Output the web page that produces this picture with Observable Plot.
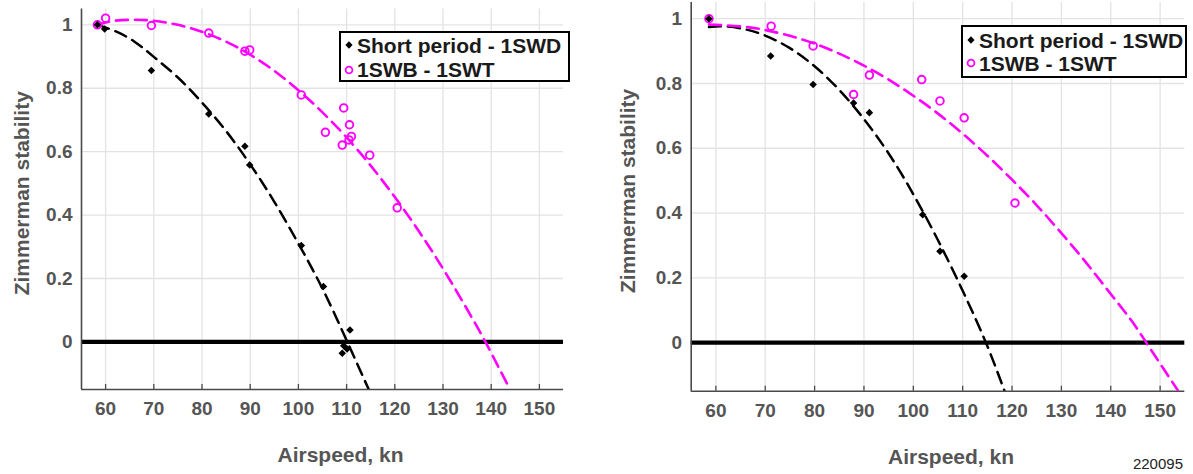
<!DOCTYPE html>
<html><head><meta charset="utf-8">
<script src="https://cdn.jsdelivr.net/npm/d3@7"></script>
<script src="https://cdn.jsdelivr.net/npm/@observablehq/plot@0.6"></script>
<style>
body{margin:0;background:#fff;}
#fig{position:relative;width:1193px;height:474px;overflow:hidden;font-family:"Liberation Sans",Arial,Helvetica,sans-serif;}
.panel{position:absolute;top:0;}
.legend{position:absolute;background:#fff;border:2px solid #000;box-sizing:border-box;font-weight:bold;font-size:21px;color:#1a1a1a;}
.legend .row{display:flex;align-items:center;white-space:nowrap;line-height:1;}
.legend svg{display:block;}
.note{position:absolute;font-size:15px;color:#222;}
</style></head>
<body>
<div id="fig"></div>
<script>
// ---------- shared axes ----------
const xDomain = [55, 155];
const yDomain = [-0.15, 1.05];
const xTicks = [60, 70, 80, 90, 100, 110, 120, 130, 140, 150];
const yTicks = [0, 0.2, 0.4, 0.6, 0.8, 1];
const xTitle = "Airspeed, kn";
const yTitle = "Zimmerman stability";
const seriesNames = ["Short period - 1SWD", "1SWB - 1SWT"];
const figureId = "220095";

// ---------- left panel data ----------
const leftSPSpeed = [58.3, 59.8, 69.5, 81.4, 88.9, 89.9, 100.6, 105.2, 109.1, 109.4, 110.1, 110.7];
const leftSPStab  = [1.0, 0.987, 0.856, 0.719, 0.617, 0.558, 0.304, 0.175, -0.036, -0.012, -0.022, 0.038];
const leftWBSpeed = [58.3, 60.0, 69.5, 81.4, 88.9, 89.9, 100.6, 105.6, 109.1, 109.4, 110.5, 110.6, 111.0, 114.8, 120.5];
const leftWBStab  = [1.0, 1.021, 0.998, 0.974, 0.917, 0.921, 0.779, 0.661, 0.621, 0.738, 0.637, 0.685, 0.648, 0.589, 0.423];
const leftSPFitSpeed = [58.3, 62, 66, 70, 75, 80, 85, 90, 95, 100, 105, 110, 114.6];
const leftSPFitStab  = [1.0, 0.98, 0.947, 0.899, 0.834, 0.755, 0.665, 0.56, 0.442, 0.31, 0.168, 0.005, -0.15];
const leftWBFitSpeed = [58.3, 62, 66, 70, 75, 80, 85, 90, 95, 100, 105, 110, 115, 120, 125, 130, 135, 138.8, 143.9];
const leftWBFitStab  = [1.0, 1.013, 1.016, 1.013, 1.0, 0.978, 0.947, 0.906, 0.855, 0.794, 0.724, 0.645, 0.556, 0.457, 0.349, 0.231, 0.103, 0.0, -0.15];

// ---------- right panel data ----------
const rightSPSpeed = [58.6, 71.1, 79.7, 87.9, 91.1, 101.9, 105.4, 110.3];
const rightSPStab  = [1.0, 0.885, 0.797, 0.740, 0.710, 0.395, 0.282, 0.205];
const rightWBSpeed = [58.6, 71.2, 79.7, 87.9, 91.1, 101.7, 105.4, 110.3, 120.6];
const rightWBStab  = [1.0, 0.977, 0.916, 0.766, 0.826, 0.812, 0.746, 0.694, 0.431];
const rightSPFitSpeed = [58.6, 62, 66, 70, 75, 80, 85, 90, 95, 100, 105, 110, 114.7, 118.5];
const rightSPFitStab  = [0.974, 0.976, 0.967, 0.948, 0.909, 0.853, 0.78, 0.69, 0.584, 0.458, 0.316, 0.16, 0.0, -0.15];
const rightWBFitSpeed = [58.6, 65, 70, 75, 80, 85, 90, 95, 100, 105, 110, 115, 120, 125, 130, 135, 140, 144, 147.2, 153.7];
const rightWBFitStab  = [0.982, 0.976, 0.965, 0.947, 0.923, 0.892, 0.855, 0.812, 0.762, 0.707, 0.645, 0.577, 0.503, 0.424, 0.338, 0.247, 0.15, 0.072, 0.0, -0.15];

const magenta = "#ff00ff";
const tickColor = "#555555";
const axisColor = "#4a4a4a";
const gridColor = "#e3e3e3";
const fontFamily = '"Liberation Sans", Arial, Helvetica, sans-serif';

const zip = (xs, ys) => xs.map((x, i) => ({x, y: ys[i]}));

function makePanel(o) {
  const sp = zip(o.spX, o.spY), wb = zip(o.wbX, o.wbY);
  const spFit = zip(o.spFitX, o.spFitY), wbFit = zip(o.wbFitX, o.wbFitY);
  return Plot.plot({
    width: o.width, height: 474,
    marginLeft: o.marginLeft, marginRight: o.marginRight, marginTop: o.marginTop, marginBottom: o.marginBottom,
    x: {domain: xDomain},
    y: {domain: yDomain},
    style: {fontFamily, background: "transparent", overflow: "visible"},
    marks: [
      Plot.gridX(xTicks, {stroke: gridColor, strokeOpacity: 1, strokeWidth: 1.3}),
      Plot.gridY(yTicks, {stroke: gridColor, strokeOpacity: 1, strokeWidth: 1.3}),
      Plot.ruleY([0], {stroke: "#000", strokeWidth: 4.2}),
      Plot.ruleX([xDomain[0]], {stroke: axisColor, strokeWidth: 1.6}),
      Plot.ruleY([yDomain[0]], {stroke: axisColor, strokeWidth: 1.6}),
      Plot.ruleX(xTicks, {x: d => d, y1: yDomain[0], y2: yDomain[0], insetTop: -5, stroke: axisColor, strokeWidth: 1.3}),
      Plot.axisX(xTicks, {tickSize: 0, tickPadding: 12, label: null, fontSize: 19, fontWeight: "bold", fill: tickColor}),
      Plot.axisY(yTicks, {tickSize: 0, tickPadding: 9, label: null, tickFormat: d3.format("~g"), fontSize: 19, fontWeight: "bold", fill: tickColor}),
      Plot.text([yTitle], {frameAnchor: "left", rotate: -90, dx: -o.yTitleGap, dy: -6, textAnchor: "middle", lineAnchor: "middle", fontSize: 21, fontWeight: "bold", fill: tickColor}),
      Plot.text([xTitle], {frameAnchor: "bottom", dy: 66, dx: o.xTitleDx, textAnchor: "middle", lineAnchor: "middle", fontSize: 21, fontWeight: "bold", fill: tickColor}),
      Plot.line(spFit, {x: "x", y: "y", curve: "natural", stroke: "#000", strokeWidth: 2.5, strokeDasharray: "12,7", clip: true}),
      Plot.line(wbFit, {x: "x", y: "y", curve: "natural", stroke: magenta, strokeWidth: 2.6, strokeDasharray: "12,7", clip: true}),
      Plot.dot(wb, {x: "x", y: "y", r: 3.8, stroke: magenta, strokeWidth: 1.9, fill: "none"}),
      Plot.dot(sp, {x: "x", y: "y", symbol: "square", rotate: 45, r: 3.0, fill: "#000", stroke: "none"})
    ]
  });
}

const fig = document.getElementById("fig");

function place(node, left) {
  node.classList.add("panel");
  node.style.left = left + "px";
  fig.appendChild(node);
}

place(makePanel({
  spX: leftSPSpeed, spY: leftSPStab, wbX: leftWBSpeed, wbY: leftWBStab,
  spFitX: leftSPFitSpeed, spFitY: leftSPFitStab, wbFitX: leftWBFitSpeed, wbFitY: leftWBFitStab,
  width: 600, marginLeft: 81, marginRight: 37, marginTop: 8.5, marginBottom: 85,
  yTitleGap: 59, xTitleDx: 18
}), 0);

place(makePanel({
  spX: rightSPSpeed, spY: rightSPStab, wbX: rightWBSpeed, wbY: rightWBStab,
  spFitX: rightSPFitSpeed, spFitY: rightSPFitStab, wbFitX: rightWBFitSpeed, wbFitY: rightWBFitStab,
  width: 593, marginLeft: 90.7, marginRight: 8.7, marginTop: 2, marginBottom: 83.3,
  yTitleGap: 63, xTitleDx: 13
}), 600);

function legend(left, top, width, height, rowH, padTop) {
  const div = document.createElement("div");
  div.className = "legend";
  Object.assign(div.style, {left: left + "px", top: top + "px", width: width + "px", height: height + "px", paddingTop: padTop + "px"});
  const markers = [
    '<svg width="10" height="10"><path d="M5,1.2L8.6,5L5,8.8L1.4,5Z" fill="#000"/></svg>',
    '<svg width="10" height="10"><circle cx="5" cy="5" r="3.4" fill="none" stroke="' + magenta + '" stroke-width="1.8"/></svg>'
  ];
  seriesNames.forEach((name, i) => {
    const row = document.createElement("div");
    row.className = "row";
    row.style.height = rowH + "px";
    row.style.paddingLeft = "3px";
    row.innerHTML = markers[i] + '<span style="margin-left:3px">' + name + '</span>';
    div.appendChild(row);
  });
  fig.appendChild(div);
}
legend(339, 31, 231, 51, 24.5, 0);
legend(961, 25, 226, 53, 23, 1.5);

const note = document.createElement("div");
note.className = "note";
note.textContent = figureId;
Object.assign(note.style, {right: (1193 - 1183) + "px", top: "455px"});
fig.appendChild(note);
</script>
</body></html>
